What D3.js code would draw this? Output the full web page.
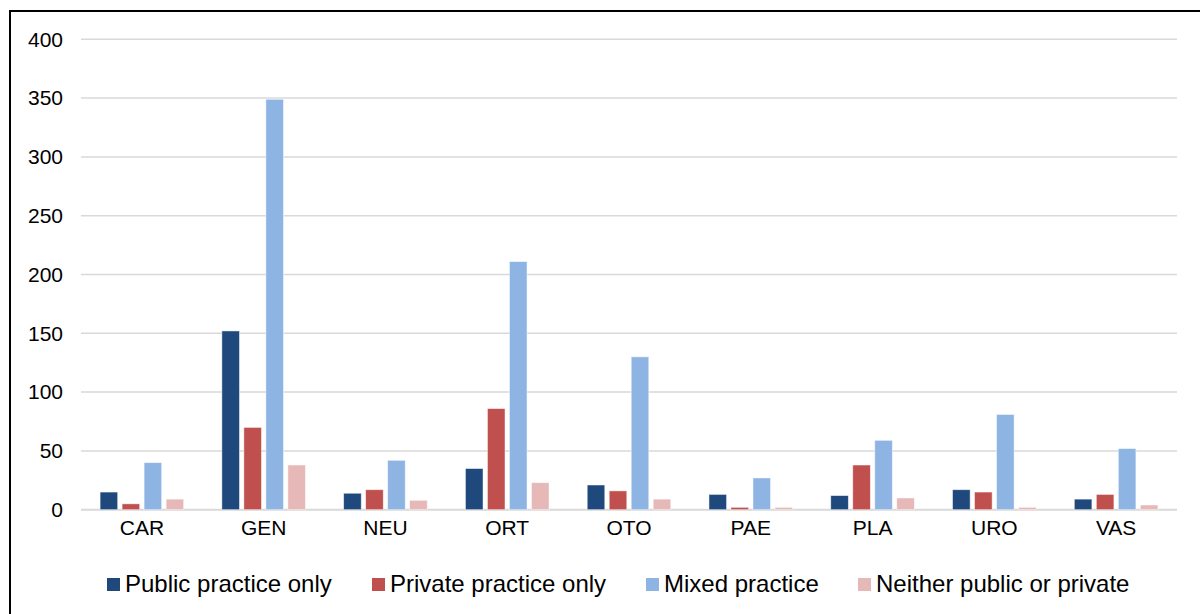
<!DOCTYPE html>
<html>
<head>
<meta charset="utf-8">
<script src="https://cdn.jsdelivr.net/npm/d3@7"></script>
<style>
  html, body { margin: 0; padding: 0; background: #fff; }
  svg { display: block; font-family: "Liberation Sans", Arial, sans-serif; }
</style>
</head>
<body>
<svg id="chart" width="1200" height="614"></svg>
<script>
// Surgical specialties
const categories = ["CAR", "GEN", "NEU", "ORT", "OTO", "PAE", "PLA", "URO", "VAS"];

// Practice type series
const seriesNames = ["Public practice only", "Private practice only", "Mixed practice", "Neither public or private"];
const publicOnly  = [15, 152, 14, 35, 21, 13, 12, 17, 9];
const privateOnly = [5, 70, 17, 86, 16, 2, 38, 15, 13];
const mixed       = [40, 349, 42, 211, 130, 27, 59, 81, 52];
const neither     = [9, 38, 8, 23, 9, 2, 10, 2, 4];
const seriesValues = [publicOnly, privateOnly, mixed, neither];
const seriesColors = ["#1F497D", "#C0504D", "#8EB4E3", "#E6B9B8"];

const yTicks = [0, 50, 100, 150, 200, 250, 300, 350, 400];

const svg = d3.select("#chart");

// outer frame
svg.append("rect")
  .attr("x", 10).attr("y", 11)
  .attr("width", 1300).attr("height", 700)
  .attr("fill", "none").attr("stroke", "#000").attr("stroke-width", 2);

const plot = { left: 81, right: 1177, top: 39.3, bottom: 509.7 };

const x0 = d3.scaleBand().domain(categories).range([plot.left, plot.right]);
const x1 = d3.scaleBand().domain(d3.range(seriesNames.length))
  .range([-44, 44]).paddingInner(0.2).paddingOuter(0.1);
const y = d3.scaleLinear().domain([0, 400]).range([plot.bottom, plot.top]);

// gridlines
svg.append("g")
  .selectAll("line")
  .data(yTicks)
  .join("line")
  .attr("x1", plot.left).attr("x2", plot.right)
  .attr("y1", d => y(d)).attr("y2", d => y(d))
  .attr("stroke", "#d9d9d9")
  .attr("stroke-width", d => d === 0 ? 2 : 1.5);

// y axis labels
const yAxis = svg.append("g")
  .attr("transform", `translate(${plot.left - 18},0)`)
  .call(d3.axisLeft(y).tickValues(yTicks).tickSize(0).tickPadding(0));
yAxis.select(".domain").remove();
yAxis.selectAll("text")
  .attr("font-size", 21)
  .attr("fill", "#000")
  .attr("font-family", "Liberation Sans, Arial, sans-serif");

// bars
const groups = svg.append("g")
  .selectAll("g")
  .data(categories)
  .join("g")
  .attr("transform", d => `translate(${x0(d) + x0.bandwidth() / 2},0)`);

groups.selectAll("rect")
  .data((c, ci) => seriesValues.map((vals, si) => ({ si, v: vals[ci] })))
  .join("rect")
  .attr("x", d => x1(d.si))
  .attr("width", x1.bandwidth())
  .attr("y", d => y(d.v))
  .attr("height", d => y(0) - y(d.v))
  .attr("fill", d => seriesColors[d.si])
  .attr("stroke", "#ffffff")
  .attr("stroke-opacity", 0.6)
  .attr("stroke-width", 0.8);

// x axis labels
const xAxis = svg.append("g")
  .attr("transform", `translate(0,${plot.bottom + 10})`)
  .call(d3.axisBottom(x0).tickSize(0).tickPadding(0));
xAxis.select(".domain").remove();
xAxis.selectAll("text")
  .attr("font-size", 21)
  .attr("fill", "#000")
  .attr("dy", "0.71em")
  .attr("font-family", "Liberation Sans, Arial, sans-serif");

// legend
const legendX = [107, 372, 646, 858];
const legend = svg.append("g")
  .selectAll("g")
  .data(seriesNames)
  .join("g")
  .attr("transform", (d, i) => `translate(${legendX[i]},0)`);
legend.append("rect")
  .attr("x", 0).attr("y", 578)
  .attr("width", 13).attr("height", 13)
  .attr("fill", (d, i) => seriesColors[i]);
legend.append("text")
  .attr("x", 18).attr("y", 592)
  .attr("font-size", 24)
  .attr("fill", "#000")
  .text(d => d);
</script>
</body>
</html>
